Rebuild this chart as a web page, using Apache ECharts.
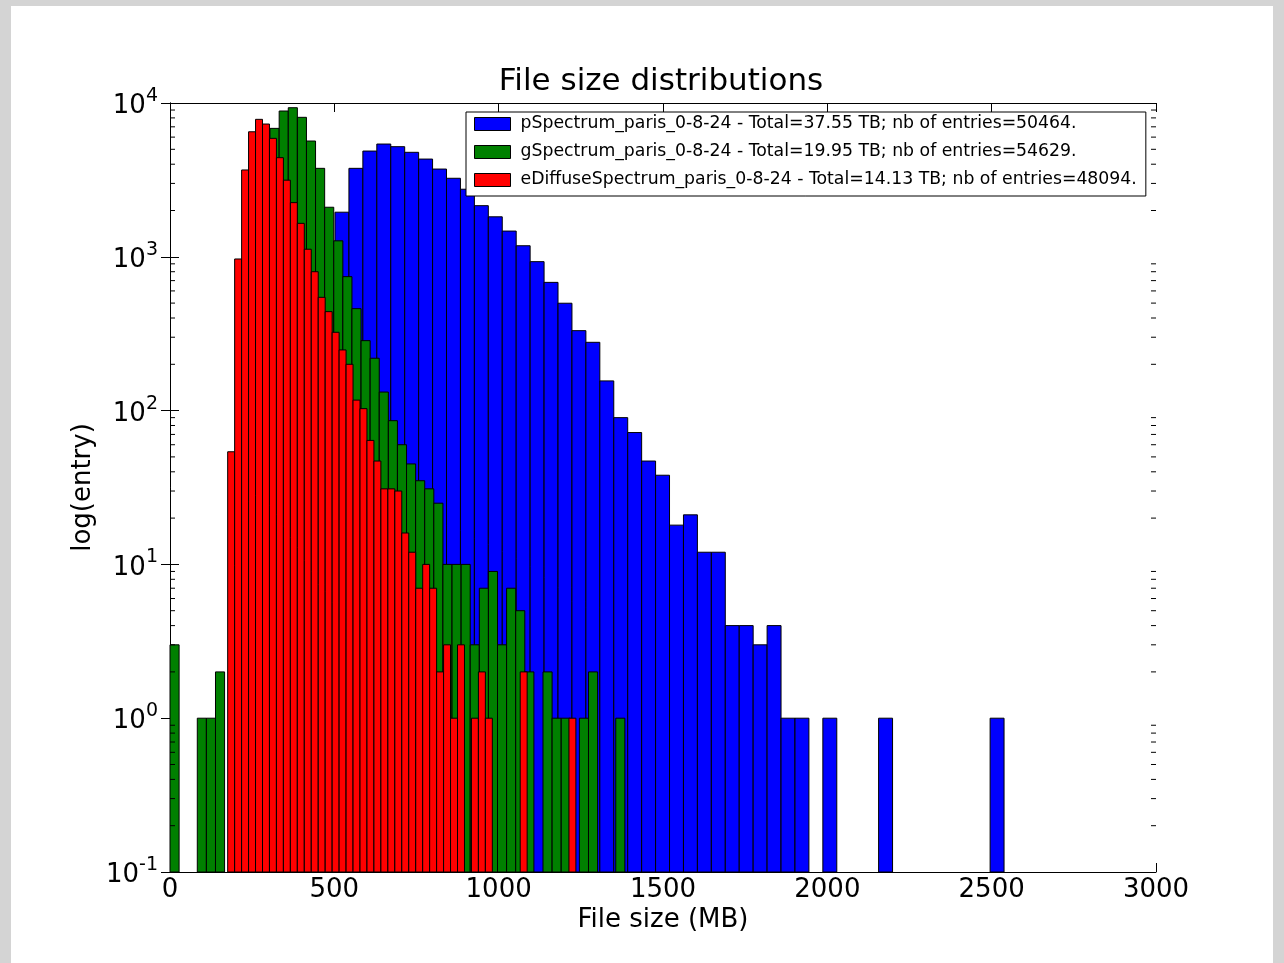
<!DOCTYPE html>
<html>
<head>
<meta charset="utf-8">
<script src="https://cdn.jsdelivr.net/npm/echarts@6/dist/echarts.min.js"></script>
<style>
html,body{margin:0;padding:0;width:1284px;height:963px;overflow:hidden;background:#d4d4d4;}
#panel{position:absolute;left:11px;top:6px;width:1262px;height:957px;background:#ffffff;}
#chart{position:absolute;left:0;top:0;width:1262px;height:957px;}
</style>
</head>
<body>
<div id="panel"><div id="chart"></div></div>
<script>
// ---- Data ----
const seriesNames = [
  'pSpectrum_paris_0-8-24 - Total=37.55 TB; nb of entries=50464.',
  'gSpectrum_paris_0-8-24 - Total=19.95 TB; nb of entries=54629.',
  'eDiffuseSpectrum_paris_0-8-24 - Total=14.13 TB; nb of entries=48094.'
];
// bin definitions (MB): first edge and bin width, 50 bins each
const pSpectrumBinStart = 417.2, pSpectrumBinWidth = 42.41;
const gSpectrumBinStart = 0, gSpectrumBinWidth = 27.68;
const eDiffuseBinStart = 175.5, eDiffuseBinWidth = 21.19;

const pSpectrumCounts = [140, 500, 1950, 3760, 4870, 5410, 5200, 4780, 4320, 3720,
  3240, 2750, 2150, 1820, 1470, 1180, 930, 682, 499, 331,
  278, 156, 90, 72, 47, 38, 18, 21, 12, 12,
  4, 4, 3, 4, 1, 1, 0, 1, 0, 0,
  0, 1, 0, 0, 0, 0, 0, 0, 0, 1];
const gSpectrumCounts = [3, 0, 0, 1, 1, 2, 0, 50, 500, 1700,
  4200, 6840, 8870, 9320, 8070, 5660, 3760, 2100, 1270, 743,
  460, 285, 219, 132, 86, 60, 45, 35, 31, 25,
  10, 10, 10, 3, 7, 9, 3, 7, 5, 2,
  0, 2, 1, 1, 0, 1, 2, 0, 0, 1];
const eDiffuseCounts = [54, 968, 3670, 6500, 7830, 7300, 5890, 4410, 3150, 2250,
  1650, 1120, 800, 545, 440, 323, 248, 200, 117, 103,
  64, 47, 31, 31, 30, 16, 12, 7, 10, 7,
  2, 3, 1, 3, 0, 1, 2, 1, 0, 0,
  0, 0, 2, 0, 0, 0, 0, 0, 0, 1];

const xTicks = [0, 500, 1000, 1500, 2000, 2500, 3000];
const yDecades = [-1, 0, 1, 2, 3, 4];
const minorMultipliers = [2, 3, 4, 5, 6, 7, 8, 9];

const X_MIN = 0, X_MAX = 3000, X_INTERVAL = 500;
const Y_MIN = 0.1, Y_MAX = 10000;
const FONT = 'DejaVu Sans';

function histSeries(name, color, start, width, counts) {
  const data = [];
  counts.forEach(function (c, i) {
    if (c > 0) data.push([start + i * width, start + (i + 1) * width, c]);
  });
  return {
    type: 'custom',
    name: name,
    data: data,
    encode: { x: [0, 1], y: 2 },
    itemStyle: { color: color, borderColor: '#000', borderWidth: 1 },
    renderItem: function (params, api) {
      const p0 = api.coord([api.value(0), api.value(2)]);
      const p1 = api.coord([api.value(1), Y_MIN]);
      return {
        type: 'rect',
        shape: { x: p0[0], y: p0[1], width: p1[0] - p0[0], height: p1[1] - p0[1] },
        style: { fill: color, stroke: '#000', lineWidth: 1 }
      };
    }
  };
}

// minor tick values for the log axis
const minorData = [];
yDecades.slice(0, -1).forEach(function (e) {
  minorMultipliers.forEach(function (m) { minorData.push([X_MIN, m * Math.pow(10, e)]); });
});

const chart = echarts.init(document.getElementById('chart'));
const axisLineStyle = { lineStyle: { color: '#000', width: 1 } };

chart.setOption({
  animation: false,
  title: {
    text: 'File size distributions',
    left: 645, top: 55, textAlign: 'center',
    textStyle: { fontFamily: FONT, fontSize: 31, fontWeight: 'normal', color: '#000' }
  },
  legend: {
    orient: 'vertical',
    left: 455, top: 106,
    padding: [2, 9, 6, 8],
    backgroundColor: '#fff',
    borderColor: '#000', borderWidth: 1, borderRadius: 0,
    itemWidth: 36, itemHeight: 13, itemGap: 8,
    icon: 'rect',
    itemStyle: { borderColor: '#000', borderWidth: 1 },
    textStyle: { fontFamily: FONT, fontSize: 17.3, color: '#000', lineHeight: 20, padding: [0, 0, 0, 5] },
    data: seriesNames
  },
  grid: { left: 159, top: 97, width: 986, height: 769 },
  xAxis: [{
    type: 'value', min: X_MIN, max: X_MAX, interval: X_INTERVAL,
    position: 'bottom',
    axisLine: axisLineStyle,
    axisTick: { inside: true, length: 9, lineStyle: { color: '#000' } },
    splitLine: { show: false },
    axisLabel: { fontFamily: FONT, fontSize: 26, color: '#000', margin: 5,
      formatter: function (v) { return xTicks.indexOf(v) >= 0 ? String(v) : ''; } },
    name: 'File size (MB)', nameLocation: 'middle', nameGap: 35, nameMoveOverlap: false,
    nameTextStyle: { fontFamily: FONT, fontSize: 26, color: '#000' }
  }, {
    type: 'value', min: X_MIN, max: X_MAX, interval: X_INTERVAL,
    position: 'top',
    axisLine: axisLineStyle,
    axisTick: { inside: true, length: 9, lineStyle: { color: '#000' } },
    splitLine: { show: false },
    axisLabel: { show: false }
  }],
  yAxis: [{
    type: 'log', logBase: 10, min: Y_MIN, max: Y_MAX,
    position: 'left',
    axisLine: axisLineStyle,
    axisTick: { inside: true, length: 9, lineStyle: { color: '#000' } },
    splitLine: { show: false },
    axisLabel: {
      margin: 12,
      formatter: function (v) {
        const e = Math.round(Math.log10(v));
        return '{b|10}{s|' + (e < 0 ? '-' + (-e) : e) + '}';
      },
      rich: {
        b: { fontFamily: FONT, fontSize: 26, color: '#000', lineHeight: 33, verticalAlign: 'bottom' },
        s: { fontFamily: FONT, fontSize: 19, color: '#000', lineHeight: 20, verticalAlign: 'top' }
      }
    },
    name: 'log(entry)', nameLocation: 'middle', nameGap: 74, nameRotate: 90, nameMoveOverlap: false,
    nameTextStyle: { fontFamily: FONT, fontSize: 26, color: '#000' }
  }, {
    type: 'log', logBase: 10, min: Y_MIN, max: Y_MAX,
    position: 'right',
    axisLine: axisLineStyle,
    axisTick: { inside: true, length: 9, lineStyle: { color: '#000' } },
    splitLine: { show: false },
    axisLabel: { show: false }
  }],
  series: [
    histSeries(seriesNames[0], '#0000ff', pSpectrumBinStart, pSpectrumBinWidth, pSpectrumCounts),
    histSeries(seriesNames[1], '#008000', gSpectrumBinStart, gSpectrumBinWidth, gSpectrumCounts),
    histSeries(seriesNames[2], '#ff0000', eDiffuseBinStart, eDiffuseBinWidth, eDiffuseCounts),
    {
      type: 'custom', name: 'minorTicks', silent: true, z: 5,
      data: minorData, encode: { x: 0, y: 1 },
      renderItem: function (params, api) {
        const pl = api.coord([X_MIN, api.value(1)]);
        const pr = api.coord([X_MAX, api.value(1)]);
        return {
          type: 'group',
          children: [
            { type: 'line', shape: { x1: pl[0], y1: pl[1], x2: pl[0] + 5, y2: pl[1] }, style: { stroke: '#000', lineWidth: 1 } },
            { type: 'line', shape: { x1: pr[0] - 5, y1: pr[1], x2: pr[0], y2: pr[1] }, style: { stroke: '#000', lineWidth: 1 } }
          ]
        };
      }
    }
  ]
});
</script>
</body>
</html>
